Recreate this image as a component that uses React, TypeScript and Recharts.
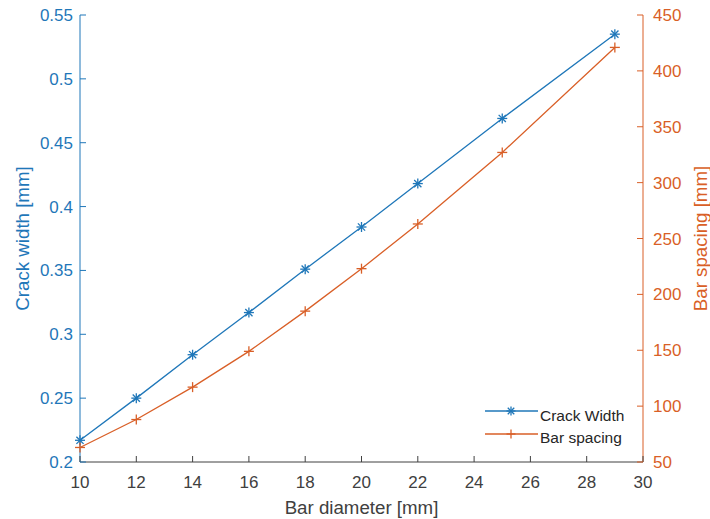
import React from 'react';
import { LineChart, Line, XAxis, YAxis, Label } from 'recharts';

const diameters = [10, 12, 14, 16, 18, 20, 22, 25, 29];
const crackWidth = [0.217, 0.25, 0.284, 0.317, 0.351, 0.384, 0.418, 0.469, 0.535];
const barSpacing = [63, 88, 117, 149, 185, 223, 263, 327, 421];

const xTicks = [10, 12, 14, 16, 18, 20, 22, 24, 26, 28, 30];
const leftTicks = [0.2, 0.25, 0.3, 0.35, 0.4, 0.45, 0.5, 0.55];
const rightTicks = [50, 100, 150, 200, 250, 300, 350, 400, 450];

const BLUE = '#1f77b9';
const ORANGE = '#d95f27';
const GREY = '#404040';
const FONT = '"Liberation Sans", Arial, sans-serif';

const rows = diameters.map((d, i) => ({ d, cw: crackWidth[i], bs: barSpacing[i] }));

const fmt = (v: number) => String(Number(v.toFixed(2)));

// eslint-disable-next-line @typescript-eslint/no-explicit-any
const XTick = (p: any) => (
    <g>
        <line x1={p.x} y1={p.y} x2={p.x} y2={p.y - 6} stroke={GREY} strokeWidth={1} />
        <text x={p.x} y={p.y + 26} textAnchor="middle" fill={GREY} fontSize={17} fontFamily={FONT}>
            {p.payload.value}
        </text>
    </g>
);

// eslint-disable-next-line @typescript-eslint/no-explicit-any
const LeftTick = (p: any) => (
    <g>
        <line x1={p.x} y1={p.y} x2={p.x + 6} y2={p.y} stroke={BLUE} strokeWidth={1} />
        <text x={p.x - 7} y={p.y + 6} textAnchor="end" fill={BLUE} fontSize={17} fontFamily={FONT}>
            {fmt(p.payload.value)}
        </text>
    </g>
);

// eslint-disable-next-line @typescript-eslint/no-explicit-any
const RightTick = (p: any) => (
    <g>
        <line x1={p.x} y1={p.y} x2={p.x - 6} y2={p.y} stroke={ORANGE} strokeWidth={1} />
        <text x={p.x + 10} y={p.y + 6} textAnchor="start" fill={ORANGE} fontSize={17} fontFamily={FONT}>
            {p.payload.value}
        </text>
    </g>
);

function Asterisk({ cx, cy, color, r = 5 }: { cx: number; cy: number; color: string; r?: number }) {
    const k = r * 0.72;
    return (
        <g stroke={color} strokeWidth={1.3}>
            <line x1={cx - r} y1={cy} x2={cx + r} y2={cy} />
            <line x1={cx} y1={cy - r} x2={cx} y2={cy + r} />
            <line x1={cx - k} y1={cy - k} x2={cx + k} y2={cy + k} />
            <line x1={cx - k} y1={cy + k} x2={cx + k} y2={cy - k} />
        </g>
    );
}

function Plus({ cx, cy, color, r = 5 }: { cx: number; cy: number; color: string; r?: number }) {
    return (
        <g stroke={color} strokeWidth={1.3}>
            <line x1={cx - r} y1={cy} x2={cx + r} y2={cy} />
            <line x1={cx} y1={cy - r} x2={cx} y2={cy + r} />
        </g>
    );
}

function LegendBox() {
    return (
        <svg width={160} height={50} style={{ position: 'absolute', left: 480, top: 400 }}>
            <line x1={5} y1={11} x2={58} y2={11} stroke={BLUE} strokeWidth={1.3} />
            <Asterisk cx={31} cy={11} color={BLUE} r={4.5} />
            <text x={60} y={21} fill="#262626" fontSize={15.5} fontFamily={FONT}>Crack Width</text>
            <line x1={5} y1={34} x2={58} y2={34} stroke={ORANGE} strokeWidth={1.3} />
            <Plus cx={31} cy={34} color={ORANGE} r={4.5} />
            <text x={60} y={43} fill="#262626" fontSize={15.5} fontFamily={FONT}>Bar spacing</text>
        </svg>
    );
}

export default function App() {
    return (
        <div style={{ position: 'absolute', left: 0, top: 0, width: 710, height: 519, background: '#fff' }}>
            <LineChart width={710} height={519} data={rows} margin={{ top: 15, right: 0, bottom: 0, left: 0 }}>
                <XAxis
                    dataKey="d"
                    type="number"
                    domain={[10, 30]}
                    ticks={xTicks}
                    interval={0}
                    height={57}
                    tickSize={0}
                    tickMargin={0}
                    tick={XTick}
                    axisLine={{ stroke: GREY, strokeWidth: 1 }}
                >
                    <Label
                        // eslint-disable-next-line @typescript-eslint/no-explicit-any
                        content={(p: any) => (
                            <text
                                x={p.viewBox.x + p.viewBox.width / 2}
                                y={p.viewBox.y + 52}
                                textAnchor="middle"
                                fill={GREY}
                                fontSize={18.7}
                                fontFamily={FONT}
                            >
                                Bar diameter [mm]
                            </text>
                        )}
                    />
                </XAxis>
                <YAxis
                    yAxisId="l"
                    type="number"
                    domain={[0.2, 0.55]}
                    ticks={leftTicks}
                    interval={0}
                    width={80}
                    tickSize={0}
                    tickMargin={0}
                    tick={LeftTick}
                    axisLine={{ stroke: BLUE, strokeWidth: 1 }}
                >
                    <Label
                        // eslint-disable-next-line @typescript-eslint/no-explicit-any
                        content={(p: any) => {
                            const x = p.viewBox.x + 29;
                            const y = p.viewBox.y + p.viewBox.height / 2;
                            return (
                                <text x={x} y={y} transform={`rotate(-90, ${x}, ${y})`} textAnchor="middle" fill={BLUE} fontSize={18.7} fontFamily={FONT}>
                                    Crack width [mm]
                                </text>
                            );
                        }}
                    />
                </YAxis>
                <YAxis
                    yAxisId="r"
                    orientation="right"
                    type="number"
                    domain={[50, 450]}
                    ticks={rightTicks}
                    interval={0}
                    width={67}
                    tickSize={0}
                    tickMargin={0}
                    tick={RightTick}
                    axisLine={{ stroke: ORANGE, strokeWidth: 1 }}
                >
                    <Label
                        // eslint-disable-next-line @typescript-eslint/no-explicit-any
                        content={(p: any) => {
                            const x = p.viewBox.x + 64;
                            const y = p.viewBox.y + p.viewBox.height / 2;
                            return (
                                <text x={x} y={y} transform={`rotate(-90, ${x}, ${y})`} textAnchor="middle" fill={ORANGE} fontSize={18.7} fontFamily={FONT}>
                                    Bar spacing [mm]
                                </text>
                            );
                        }}
                    />
                </YAxis>
                <Line
                    yAxisId="l"
                    dataKey="cw"
                    type="linear"
                    stroke={BLUE}
                    strokeWidth={1.3}
                    isAnimationActive={false}
                    // eslint-disable-next-line @typescript-eslint/no-explicit-any
                    dot={(p: any) => <Asterisk key={`a${p.index}`} cx={p.cx} cy={p.cy} color={BLUE} />}
                    activeDot={false}
                />
                <Line
                    yAxisId="r"
                    dataKey="bs"
                    type="linear"
                    stroke={ORANGE}
                    strokeWidth={1.3}
                    isAnimationActive={false}
                    // eslint-disable-next-line @typescript-eslint/no-explicit-any
                    dot={(p: any) => <Plus key={`p${p.index}`} cx={p.cx} cy={p.cy} color={ORANGE} />}
                    activeDot={false}
                />
            </LineChart>
            <LegendBox />
        </div>
    );
}
